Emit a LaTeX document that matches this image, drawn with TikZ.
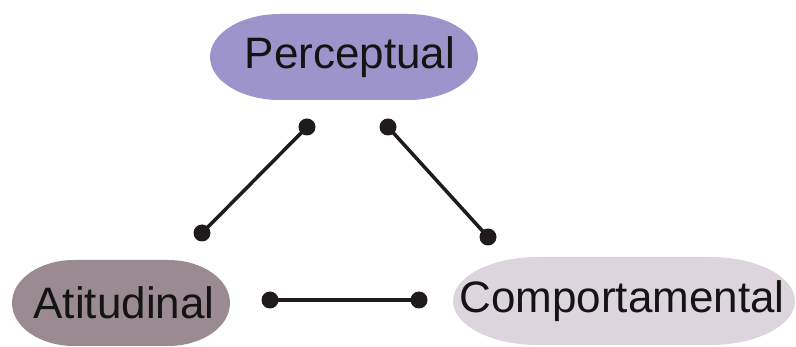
\documentclass[tikz,border=0pt]{standalone}
\usepackage{fontspec}
\setmainfont{Liberation Sans}
\definecolor{percfill}{HTML}{9C94CA}
\definecolor{atitfill}{HTML}{9A8B92}
\definecolor{compfill}{HTML}{DDD5DD}
\definecolor{linkcol}{HTML}{1E1A1E}
\tikzset{
  facet/.style={inner sep=0pt, font=\fontsize{44}{48}\selectfont, text=black!92},
  joint/.style={circle, fill=linkcol, inner sep=0pt, minimum size=17pt},
  link/.style={draw=linkcol, line width=3.5pt}
}
% oval plate: centre (#1,#2), half width #3, half height #4, end radius #5, colour #6
\newcommand{\ovalplate}[6]{%
  \fill[#6] (#1-#3+#5,#2-#4) -- (#1+#3-#5,#2-#4)
    arc[start angle=-90, end angle=0, x radius=#5, y radius=#4]
    arc[start angle=0, end angle=90, x radius=#5, y radius=#4]
    -- (#1-#3+#5,#2+#4)
    arc[start angle=90, end angle=180, x radius=#5, y radius=#4]
    arc[start angle=180, end angle=270, x radius=#5, y radius=#4] -- cycle;}
\begin{document}
\begin{tikzpicture}[x=1pt, y=-1pt]
  \useasboundingbox (0,0) rectangle (796,347);
  % the three facets
  \ovalplate{344}{57}{134}{43}{70}{percfill}
  \ovalplate{121}{303}{109}{43}{62}{atitfill}
  \ovalplate{624}{301}{171}{44}{85}{compfill}
  \node[facet] (perc) at (350,57) {Perceptual};
  \node[facet] (atit) at (124,303) {Atitudinal};
  \node[facet] (comp) at (622,301) {Comportamental};
  % dumbbell-shaped links between the facets
  \node[joint] (pl) at (307,127) {};
  \node[joint] (al) at (202,233) {};
  \node[joint] (pr) at (388,127) {};
  \node[joint] (cr) at (488,237) {};
  \node[joint] (ar) at (270,300) {};
  \node[joint] (cl) at (419,300) {};
  \draw[link] (pl.center) -- (al.center);
  \draw[link] (pr.center) -- (cr.center);
  \draw[link] (ar.center) -- (cl.center);
\end{tikzpicture}
\end{document}
